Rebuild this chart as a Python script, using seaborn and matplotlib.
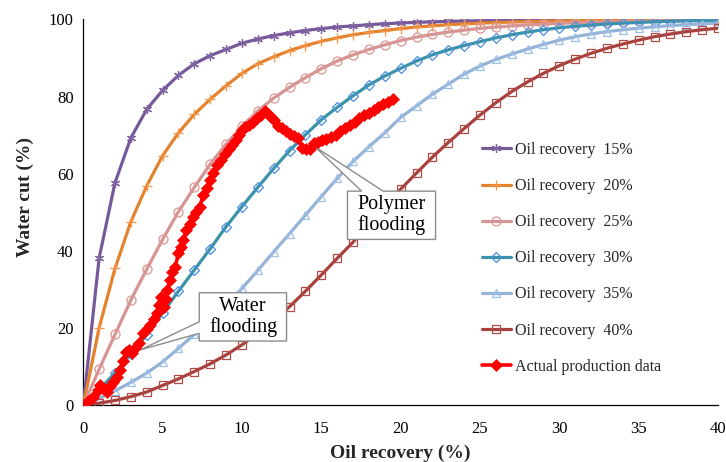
import numpy as np
import pandas as pd
import matplotlib
matplotlib.use("Agg")
import matplotlib.pyplot as plt
from matplotlib.patches import Polygon
import seaborn as sns

# ---------------- data ----------------
recovery = list(range(0, 41))

wc_15 = [0, 38.2, 57.7, 69.3, 76.7, 81.6, 85.5, 88.5, 90.6, 92.2, 93.8, 94.9, 95.8, 96.5, 97.1,
         97.6, 98.0, 98.3, 98.6, 98.85, 99.05, 99.2, 99.35, 99.45, 99.55, 99.62, 99.68, 99.73,
         99.78, 99.82, 99.85, 99.87, 99.89, 99.91, 99.92, 99.93, 99.94, 99.95, 99.96, 99.96, 99.97]
wc_20 = [0, 20.1, 35.5, 47.6, 56.9, 64.7, 70.6, 75.4, 79.3, 82.8, 86.0, 88.5, 90.3, 91.9, 93.2,
         94.3, 95.2, 96.0, 96.6, 97.1, 97.6, 98.0, 98.3, 98.6, 98.8, 99.0, 99.15, 99.3, 99.4, 99.5,
         99.58, 99.65, 99.7, 99.75, 99.79, 99.82, 99.85, 99.87, 99.89, 99.91, 99.92]
wc_25 = [0, 9.4, 18.4, 27.3, 35.3, 43.0, 50.2, 56.5, 62.5, 67.7, 72.3, 76.3, 79.6, 82.4, 84.9,
         87.2, 89.2, 90.8, 92.2, 93.4, 94.5, 95.4, 96.1, 96.7, 97.2, 97.65, 98.0, 98.3, 98.55,
         98.75, 98.95, 99.1, 99.2, 99.3, 99.4, 99.5, 99.55, 99.6, 99.65, 99.7, 99.75]
wc_30 = [0, 4.0, 8.5, 13.3, 18.3, 24.0, 29.6, 35.1, 40.6, 46.3, 51.5, 56.5, 61.4, 66.0, 70.1,
         74.0, 77.2, 80.2, 83.0, 85.3, 87.3, 89.2, 90.8, 92.1, 93.2, 94.2, 95.2, 96.0, 96.7, 97.3,
         97.8, 98.2, 98.5, 98.8, 99.0, 99.2, 99.35, 99.5, 99.6, 99.7, 99.75]
wc_35 = [0, 1.8, 3.8, 6.0, 8.4, 11.3, 14.8, 18.4, 22.0, 26.0, 30.3, 35.0, 39.8, 44.5, 49.3,
         54.1, 58.8, 63.2, 67.0, 70.6, 74.6, 77.6, 80.6, 83.2, 85.8, 87.9, 89.6, 91.0, 92.3, 93.5,
         94.6, 95.5, 96.2, 96.8, 97.3, 97.7, 98.05, 98.35, 98.6, 98.8, 99.0]
wc_40 = [0, 0.6, 1.3, 2.3, 3.5, 5.2, 6.9, 8.8, 10.8, 13.1, 15.7, 18.7, 22.0, 25.6, 29.6,
         33.8, 38.1, 42.3, 47.0, 51.5, 56.0, 60.2, 64.3, 68.1, 71.7, 75.2, 78.4, 81.3, 83.8, 86.0,
         88.0, 89.7, 91.2, 92.5, 93.6, 94.6, 95.5, 96.2, 96.8, 97.3, 97.7]

actual_x = [0, 0.3, 0.6, 0.9, 1.05, 1.3, 1.5, 1.7, 1.9, 2.1, 2.3, 2.5, 2.7, 2.9, 3.05, 3.25, 3.5,
            3.75, 4.0, 4.2, 4.45, 4.65, 4.8, 4.9, 5.0, 5.1, 5.2, 5.3, 5.45, 5.6, 5.8, 6.0, 6.15,
            6.3, 6.5, 6.7, 6.9, 7.1, 7.35, 7.55, 7.8, 8.0, 8.2, 8.45, 8.7, 8.95, 9.2, 9.4, 9.6,
            9.8, 10.0, 10.2, 10.45, 10.7, 10.95, 11.2, 11.45, 11.65, 11.85, 12.05, 12.3, 12.55,
            12.8, 13.05, 13.3, 13.55, 13.8, 14.05, 14.3, 14.55, 14.8, 15.05, 15.3, 15.6, 15.9,
            16.2, 16.5, 16.8, 17.1, 17.4, 17.7, 18.0, 18.3, 18.6, 18.9, 19.2, 19.5]
actual_y = [0, 1.2, 2.3, 4.0, 5.3, 4.2, 3.6, 5.0, 6.2, 7.5, 9.2, 11.5, 13.9, 14.5, 13.5, 15.0,
            16.1, 18.7, 19.8, 20.8, 22.5, 23.9, 26.0, 28.2, 27.0, 25.6, 27.5, 29.9, 32.5, 34.5,
            35.9, 39.4, 41.0, 42.8, 45.4, 47.0, 48.9, 50.0, 51.5, 54.5, 56.2, 58.5, 60.1, 62.3,
            63.6, 65.0, 66.5, 67.5, 68.8, 70.0, 71.3, 72.2, 72.6, 73.5, 74.4, 75.2, 76.3, 75.6,
            74.6, 73.8, 72.5, 71.8, 71.0, 70.3, 69.8, 69.2, 66.8, 66.4, 66.5, 67.9, 68.3, 68.7,
            69.0, 69.6, 70.0, 71.0, 71.8, 72.6, 73.5, 74.4, 75.2, 75.8, 76.5, 77.2, 78.0, 78.6,
            79.4]

labels = ["Oil recovery  15%", "Oil recovery  20%", "Oil recovery  25%",
          "Oil recovery  30%", "Oil recovery  35%", "Oil recovery  40%"]
actual_label = "Actual production data"
x_ticks = [0, 5, 10, 15, 20, 25, 30, 35, 40]
y_ticks = [0, 20, 40, 60, 80, 100]

# ---------------- style ----------------
sns.set_theme(style="white")
plt.rcParams["font.family"] = ["Liberation Serif", "DejaVu Serif"]

fig = plt.figure(figsize=(7.26, 4.62), dpi=100)
ax = fig.add_axes([0.1147, 0.1223, 0.8743, 0.8359])

series = [wc_15, wc_20, wc_25, wc_30, wc_35, wc_40]
line_colors = ["#76599A", "#E3822F", "#D69492", "#3A93A8", "#95B3D7", "#A8413D"]
mark_colors = ["#8064A2", "#F79646", "#D99694", "#4A8EE0", "#9DC0EA", "#B04A46"]
markers = [(6, 2, 0), "+", "o", "D", "^", "s"]
msizes = [6.5, 7, 6.5, 5, 6, 5.5]

for ys, lab, lc, mc, mk, ms in zip(series, labels, line_colors, mark_colors, markers, msizes):
    sns.lineplot(x=recovery, y=ys, ax=ax, color=lc, linewidth=2.3, marker=mk,
                 markersize=ms, markerfacecolor="none", markeredgecolor=mc,
                 markeredgewidth=0.9, label=lab, zorder=3)

sns.lineplot(x=actual_x, y=actual_y, ax=ax, color="#FF0000", linewidth=2.6, marker="D",
             markersize=6.5, markerfacecolor="#FF0000", markeredgecolor="#FF0000",
             markeredgewidth=0.5, label=actual_label, zorder=7)

# ---------------- callouts ----------------
edge = "#8C8C8C"
water_poly = [(7.31, 29.2), (12.81, 29.2), (12.81, 16.7), (7.31, 16.7), (7.31, 18.7),
              (3.6, 14.4), (7.31, 21.7)]
ax.add_patch(Polygon(water_poly, closed=True, facecolor="white", edgecolor=edge,
                     linewidth=1.0, zorder=5))
ax.text(10.06, 22.95, "Water\nflooding", ha="center", va="center", fontsize=14.5,
        linespacing=1.05, zorder=6, color="black")

poly_poly = [(16.65, 55.5), (17.54, 55.5), (14.6, 67.0), (18.9, 55.5), (22.2, 55.5),
             (22.2, 43.0), (16.65, 43.0)]
ax.add_patch(Polygon(poly_poly, closed=True, facecolor="white", edgecolor=edge,
                     linewidth=1.0, zorder=5))
ax.text(19.42, 49.25, "Polymer\nflooding", ha="center", va="center", fontsize=14.5,
        linespacing=1.05, zorder=6, color="black")

# ---------------- axes ----------------
ax.set_xlim(0, 40)
ax.set_ylim(0, 100)
ax.set_xticks(x_ticks)
ax.set_yticks(y_ticks)
ax.tick_params(axis="x", direction="in", length=4, width=0.9, colors="black",
               labelsize=12, pad=11.5)
ax.tick_params(axis="y", direction="out", length=4, width=0.9, colors="black",
               labelsize=12, pad=3)
for s in ["top", "right"]:
    ax.spines[s].set_visible(False)
for s in ["left", "bottom"]:
    ax.spines[s].set_color("black")
    ax.spines[s].set_linewidth(0.9)
ax.grid(False)

ax.set_xlabel("Oil recovery (%)", fontsize=14, fontweight="bold", labelpad=5)
ax.set_ylabel("Water cut (%)", fontsize=14, fontweight="bold")
ax.yaxis.set_label_coords(-0.078, 0.54)

leg = ax.legend(loc="upper left", bbox_to_anchor=(482 / 726, 1 - 142 / 462),
                bbox_transform=fig.transFigure, frameon=False, fontsize=11.5,
                handlelength=1.8, handletextpad=0.25, labelspacing=1.26,
                borderpad=0, borderaxespad=0, numpoints=1)
leg.set_zorder(8)

fig.savefig("out.png", dpi=100)
